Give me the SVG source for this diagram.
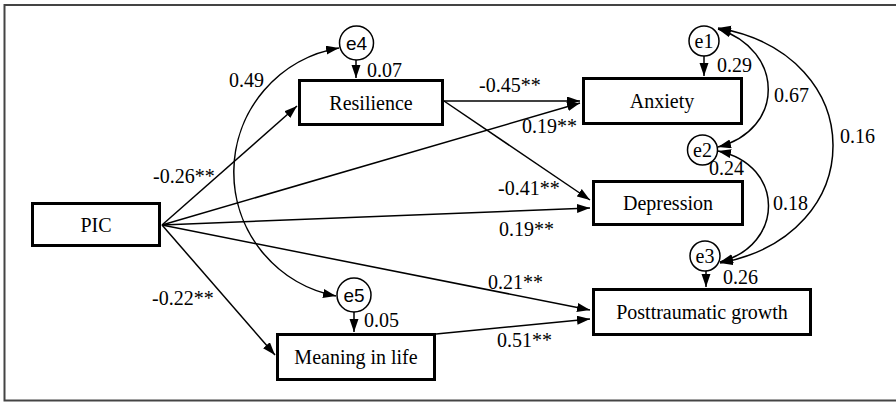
<svg xmlns="http://www.w3.org/2000/svg" width="896" height="402" viewBox="0 0 896 402">
<style>
.box{fill:#fff;stroke:#000;stroke-width:3}
.err{fill:#fff;stroke:#000;stroke-width:1.5}
.t{font-size:20px;fill:#000}
.c{text-anchor:middle}
.s{font-size:19px;fill:#000;text-anchor:middle}
.ln{fill:none;stroke:#000;stroke-width:1.5}
</style>
<defs>
<marker id="ah" markerUnits="userSpaceOnUse" markerWidth="14" markerHeight="10" refX="13" refY="4.5" orient="auto-start-reverse">
<path d="M0,0 L13,4.5 L0,9 z" fill="#000"/>
</marker>
</defs>
<rect x="4.5" y="5" width="900" height="395.5" fill="#fff" stroke="#444" stroke-width="2"/>

<g id="connectors">
<path class="ln" d="M162,225 L297,106" marker-end="url(#ah)"/>
<path class="ln" d="M162,225 L275,355" marker-end="url(#ah)"/>
<path class="ln" d="M162,225 L580,103" marker-end="url(#ah)"/>
<path class="ln" d="M162,225 L590,208" marker-end="url(#ah)"/>
<path class="ln" d="M162,225 L590,310" marker-end="url(#ah)"/>
<path class="ln" d="M444,101 L580,101" marker-end="url(#ah)"/>
<path class="ln" d="M444,101 L590,200" marker-end="url(#ah)"/>
<path class="ln" d="M436,334 L590,319" marker-end="url(#ah)"/>
<path class="ln" d="M356,60 L356,78" marker-end="url(#ah)"/>
<path class="ln" d="M354,312 L354,332" marker-end="url(#ah)"/>
<path class="ln" d="M704,56 L704,76" marker-end="url(#ah)"/>
<path class="ln" d="M706,271 L706,287" marker-end="url(#ah)"/>
<path class="ln" d="M339,48 A126,126 0 0 0 336,296" marker-start="url(#ah)" marker-end="url(#ah)"/>
<path class="ln" d="M718,29 C785,50 785,130 718,147" marker-start="url(#ah)" marker-end="url(#ah)"/>
<path class="ln" d="M718,28 C871,55 871,235 720,263" marker-start="url(#ah)" marker-end="url(#ah)"/>
<path class="ln" d="M718,151 C785,165 785,245 720,262" marker-start="url(#ah)" marker-end="url(#ah)"/>
</g>

<g id="labels" font-family="Liberation Serif, DejaVu Serif, serif">
<text class="t" x="229" y="87">0.49</text>
<text class="t" x="367" y="77">0.07</text>
<text class="t" x="153" y="183">-0.26**</text>
<text class="t" x="152" y="305">-0.22**</text>
<text class="t" x="364" y="327">0.05</text>
<text class="t" x="479" y="92">-0.45**</text>
<text class="t" x="522" y="133">0.19**</text>
<text class="t" x="498" y="195">-0.41**</text>
<text class="t" x="499" y="236">0.19**</text>
<text class="t" x="488" y="289">0.21**</text>
<text class="t" x="497" y="347">0.51**</text>
<text class="t" x="717" y="72">0.29</text>
<text class="t" x="774" y="102">0.67</text>
<text class="t" x="709" y="175">0.24</text>
<text class="t" x="840" y="143">0.16</text>
<text class="t" x="773" y="210">0.18</text>
<text class="t" x="723" y="284">0.26</text>
</g>

<g id="nodes" font-family="Liberation Serif, DejaVu Serif, serif">
<g id="PIC"><rect class="box" x="32.5" y="203.5" width="127" height="42"/><text class="t c" x="96" y="232">PIC</text></g>
<g id="Resilience"><rect class="box" x="299.5" y="80.5" width="143" height="44"/><text class="t c" x="371" y="110">Resilience</text></g>
<g id="Meaning"><rect class="box" x="277.5" y="334.5" width="157" height="45"/><text class="t c" x="356" y="364">Meaning in life</text></g>
<g id="Anxiety"><rect class="box" x="583.5" y="78.5" width="158" height="45"/><text class="t c" x="662" y="108">Anxiety</text></g>
<g id="Depression"><rect class="box" x="593.5" y="181.5" width="149" height="43"/><text class="t c" x="668" y="210">Depression</text></g>
<g id="PTG"><rect class="box" x="593.5" y="289.5" width="217" height="45"/><text class="t c" x="702" y="319">Posttraumatic growth</text></g>
<g id="e1"><circle class="err" cx="704" cy="41" r="15"/><text class="t c" x="704" y="48">e1</text></g>
<g id="e2"><circle class="err" cx="702.5" cy="150" r="15"/><text class="t c" x="702.5" y="157">e2</text></g>
<g id="e3"><circle class="err" cx="705" cy="256" r="15"/><text class="t c" x="705" y="263">e3</text></g>
</g>
<g font-family="Liberation Sans, Arial, sans-serif">
<g id="e4"><circle class="err" cx="356.5" cy="43" r="17"/><text class="s" x="356.5" y="50">e4</text></g>
<g id="e5"><circle class="err" cx="354" cy="295" r="17"/><text class="s" x="354" y="302">e5</text></g>
</g>
</svg>
